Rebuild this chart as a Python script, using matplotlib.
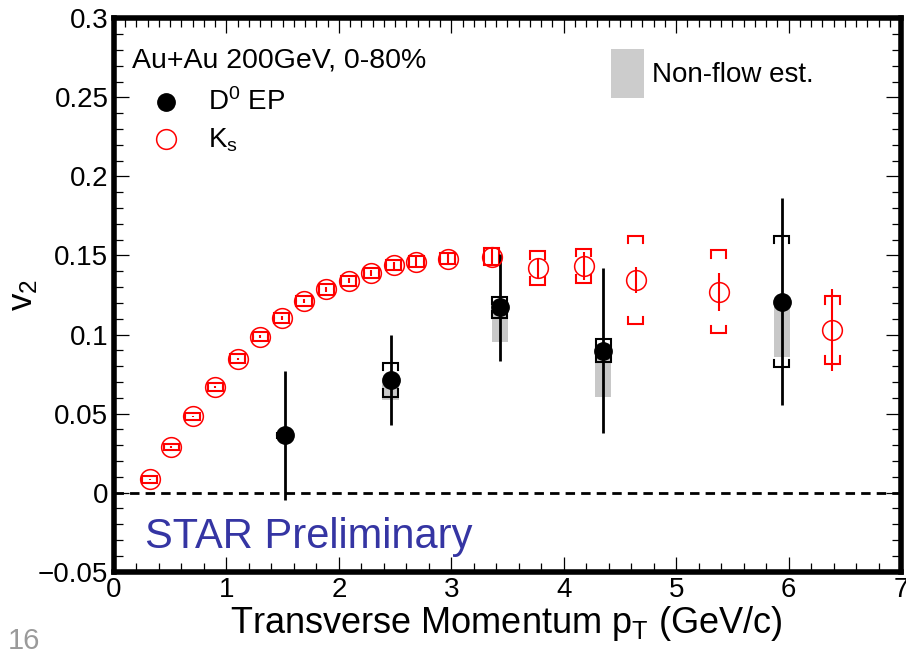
import matplotlib
matplotlib.use("Agg")
import matplotlib.pyplot as plt
from matplotlib.ticker import MultipleLocator, FuncFormatter
from matplotlib.patches import Rectangle

plt.rcParams["font.family"] = ["Liberation Sans", "DejaVu Sans"]
plt.rcParams["mathtext.fontset"] = "custom"
plt.rcParams["mathtext.rm"] = "Liberation Sans"
plt.rcParams["mathtext.it"] = "Liberation Sans:italic"
plt.rcParams["mathtext.bf"] = "Liberation Sans:bold"

# K0s v2 (open red circles)
ks_pt = [0.32, 0.51, 0.70, 0.90, 1.10, 1.30, 1.49, 1.69, 1.89, 2.09,
         2.29, 2.49, 2.69, 2.97, 3.36, 3.77, 4.18, 4.64, 5.38, 6.39]
ks_v2 = [0.0084, 0.0288, 0.0482, 0.0667, 0.0846, 0.0987, 0.1105, 0.1212, 0.1285, 0.1340,
         0.1389, 0.1439, 0.1462, 0.1481, 0.1492, 0.1420, 0.1435, 0.1345, 0.1271, 0.1029]
ks_stat = [0.0004, 0.0005, 0.0006, 0.0007, 0.0008, 0.0009, 0.0010, 0.0012, 0.0014, 0.0016,
           0.0018, 0.0022, 0.0030, 0.0030, 0.0047, 0.0060, 0.0090, 0.0085, 0.0120, 0.0260]
ks_sys = [0.0020, 0.0021, 0.0021, 0.0026, 0.0029, 0.0029, 0.0032, 0.0032, 0.0032, 0.0032,
          0.0032, 0.0032, 0.0037, 0.0037, 0.0053, 0.0106, 0.0108, 0.0278, 0.0263, 0.0214]

# D0 v2, event plane method (filled black circles)
d0_pt = [1.52, 2.46, 3.43, 4.35, 5.94]
d0_v2 = [0.0362, 0.0713, 0.1172, 0.0898, 0.1208]
d0_stat = [0.0410, 0.0287, 0.0340, 0.0520, 0.0653]
d0_sys = [0.0015, 0.0107, 0.0067, 0.0072, 0.0415]
d0_nonflow = [0.0030, 0.0130, 0.0220, 0.0294, 0.0352]

BOX_HW = 0.067    # half width of sys brackets (GeV/c)
LEG = 0.0047      # bracket leg length (v2 units)


def draw_brackets(ax, xs, ys, errs, color, lw):
    for x, y, e in zip(xs, ys, errs):
        leg = min(LEG, e)
        top, bot = y + e, y - e
        ax.plot([x - BOX_HW, x - BOX_HW, x + BOX_HW, x + BOX_HW],
                [top - leg, top, top, top - leg], color=color, lw=lw,
                solid_joinstyle="miter", zorder=3)
        ax.plot([x - BOX_HW, x - BOX_HW, x + BOX_HW, x + BOX_HW],
                [bot + leg, bot, bot, bot + leg], color=color, lw=lw,
                solid_joinstyle="miter", zorder=3)


fig = plt.figure(figsize=(9.06, 6.57), dpi=100)
ax = fig.add_axes([0.1258, 0.1298, 0.8687, 0.8423])

ax.set_xlim(0, 7)
ax.set_ylim(-0.05, 0.3)

ax.axhline(0, color="black", lw=2, ls=(0, (3.4, 2.2)), zorder=1)

# non-flow estimate bands
ax.bar(d0_pt, [-n for n in d0_nonflow], bottom=d0_v2, width=0.144,
       color="#c8c8c8", zorder=2)

draw_brackets(ax, d0_pt, d0_v2, d0_sys, "black", 1.5)
draw_brackets(ax, ks_pt, ks_v2, ks_sys, "red", 1.5)

ax.errorbar(ks_pt, ks_v2, yerr=ks_stat, fmt="none", ecolor="red",
            elinewidth=1.5, capsize=0, zorder=4)
ax.plot(ks_pt, ks_v2, ls="none", marker="o", ms=14.2, mfc="none",
        mec="red", mew=1.1, zorder=5)

ax.errorbar(d0_pt, d0_v2, yerr=d0_stat, fmt="none", ecolor="black",
            elinewidth=2, capsize=0, zorder=4)
ax.plot(d0_pt, d0_v2, ls="none", marker="o", ms=12.5, mfc="black",
        mec="black", zorder=6)

# axes styling (ROOT-like frame)
for s in ax.spines.values():
    s.set_linewidth(4)
    s.set_zorder(10)
ax.xaxis.set_major_locator(MultipleLocator(1))
ax.xaxis.set_minor_locator(MultipleLocator(0.2))
ax.yaxis.set_major_locator(MultipleLocator(0.05))
ax.yaxis.set_minor_locator(MultipleLocator(0.01))
ax.yaxis.set_major_formatter(
    FuncFormatter(lambda v, p: ("%g" % round(v, 3)).replace("-", "\u2212")))
ax.tick_params(which="both", direction="in", top=False, right=True, width=0.9)
ax.tick_params(which="major", length=11)
ax.tick_params(which="minor", length=6.5)
ax.tick_params(axis="both", labelsize=20)
ax.tick_params(axis="x", pad=3.5)
ax.tick_params(axis="y", pad=4)

sec = ax.secondary_xaxis("top")
sec.xaxis.set_major_locator(MultipleLocator(1))
sec.xaxis.set_minor_locator(MultipleLocator(0.1))
sec.tick_params(which="both", direction="in", labeltop=False, width=0.9)
sec.tick_params(which="major", length=11)
sec.tick_params(which="minor", length=6.5)
for s in sec.spines.values():
    s.set_visible(False)

ax.set_xlabel(r"Transverse Momentum p$_\mathrm{T}$ (GeV/c)", fontsize=26)
ax.xaxis.set_label_coords(0.498, -0.093)
ax.xaxis.label.set_va("center")
ax.set_ylabel(r"v$_\mathrm{2}$", fontsize=25)
ax.yaxis.set_label_coords(-0.094, 0.5)

# annotations / legend
ax.text(0.0233, 0.9107, "Au+Au 200GeV, 0-80%", transform=ax.transAxes,
        fontsize=20.5, va="baseline", ha="left")
ax.plot([0.0656], [0.8493], transform=ax.transAxes, marker="o", ms=12.5,
        color="black", ls="none", clip_on=False)
ax.text(0.1193, 0.8343, r"D$^\mathrm{0}$ EP", transform=ax.transAxes,
        fontsize=20, va="baseline", ha="left")
ax.plot([0.0656], [0.7813], transform=ax.transAxes, marker="o", ms=14.2,
        mfc="none", mec="red", mew=1.1, ls="none", clip_on=False)
ax.text(0.1193, 0.7669, r"K$_\mathrm{s}$", transform=ax.transAxes,
        fontsize=20, va="baseline", ha="left")

ax.add_patch(Rectangle((0.631, 0.8556), 0.043, 0.0889, transform=ax.transAxes,
                       facecolor="#cccccc", edgecolor="none"))
ax.text(0.684, 0.8975, "Non-flow est.", transform=ax.transAxes,
        fontsize=20, va="center", ha="left")

ax.text(0.0393, 0.0434, "STAR Preliminary", transform=ax.transAxes,
        fontsize=30, color="#3535a3", va="baseline", ha="left")

fig.text(8 / 906, 0.012, "16", fontsize=21, color="#9a9a9a",
         va="baseline", ha="left")

fig.savefig("out.png", dpi=100)
